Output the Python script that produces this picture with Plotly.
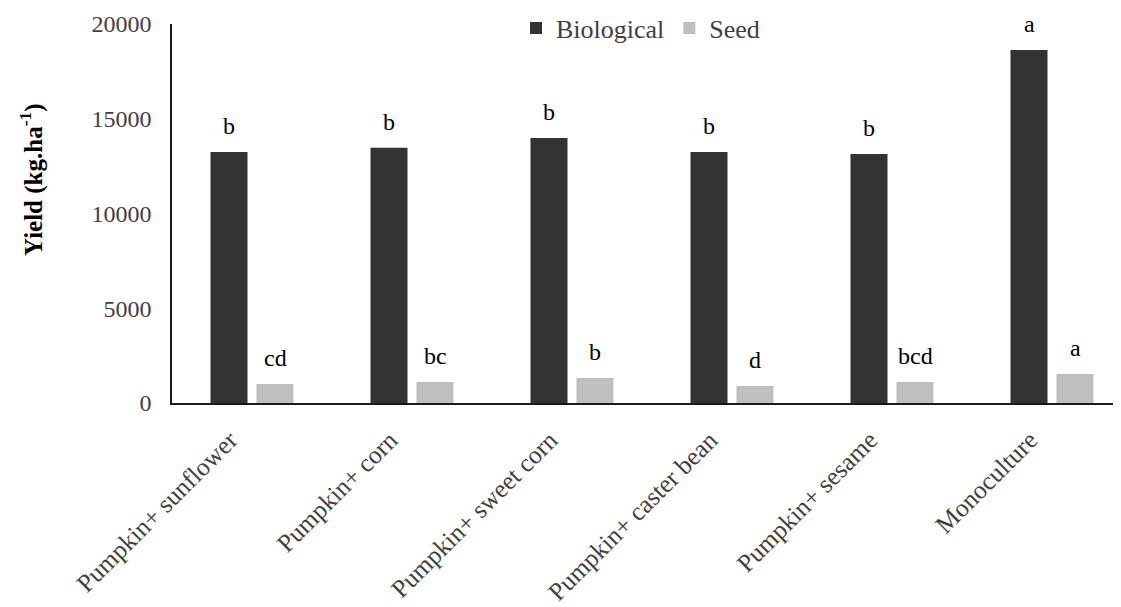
import plotly.graph_objects as go

categories = ["Pumpkin+ sunflower", "Pumpkin+ corn", "Pumpkin+ sweet corn",
              "Pumpkin+ caster bean", "Pumpkin+ sesame", "Monoculture"]
biological = [13250, 13470, 13980, 13250, 13140, 18630]
seed = [1000, 1110, 1320, 900, 1110, 1530]
bio_letters = ["b", "b", "b", "b", "b", "a"]
seed_letters = ["cd", "bc", "b", "d", "bcd", "a"]
y_ticks = [0, 5000, 10000, 15000, 20000]

FONT = "Liberation Serif, Times New Roman, serif"

fig = go.Figure()
fig.add_trace(go.Bar(name="Biological", x=categories, y=biological,
                     marker=dict(color="#333333", line=dict(width=0))))
fig.add_trace(go.Bar(name="Seed", x=categories, y=seed,
                     marker=dict(color="#bfbfbf", line=dict(width=0))))

bargap = 0.425
slot_px = 160 * (1 - bargap) / 2
for cat, v, t in zip(categories, biological, bio_letters):
    fig.add_annotation(x=cat, y=v, text=t, showarrow=False, xref="x", yref="y",
                       xshift=-slot_px / 2, yshift=11, yanchor="bottom",
                       font=dict(family=FONT, size=24, color="#000000"))
for cat, v, t in zip(categories, seed, seed_letters):
    fig.add_annotation(x=cat, y=v, text=t, showarrow=False, xref="x", yref="y",
                       xshift=slot_px / 2, yshift=11, yanchor="bottom",
                       font=dict(family=FONT, size=24, color="#000000"))

fig.add_annotation(text="<b>Yield (kg.ha<sup>-1</sup>)</b>", textangle=-90,
                   xref="paper", yref="paper", x=(31 - 172) / 949, y=(403 - 180) / 379,
                   xanchor="center", yanchor="middle", showarrow=False,
                   font=dict(family=FONT, size=25, color="#000000"))

fig.update_layout(
    width=1113, height=599,
    margin=dict(l=164, r=0, t=16, b=204, autoexpand=False),
    paper_bgcolor="white", plot_bgcolor="white",
    barmode="group", bargap=bargap, bargroupgap=0.196,
    font=dict(family=FONT, size=24, color="#404040"),
    legend=dict(orientation="h", x=(516 - 172) / 949, y=(403 - 28) / 379,
                xanchor="left", yanchor="middle", bgcolor="rgba(0,0,0,0)",
                font=dict(family=FONT, size=26, color="#404040"),
                itemwidth=30, traceorder="normal"),
    showlegend=True,
)
fig.update_xaxes(type="category", range=[-0.5, -0.5 + 949 / 160],
                 showline=True, linecolor="#1a1a1a", linewidth=2,
                 ticks="", tickangle=-45, showgrid=False, automargin=False,
                 ticklabelshift=-22, ticklabelstandoff=10,
                 tickfont=dict(family=FONT, size=25.5, color="#404040"))
fig.update_yaxes(range=[0, 20000], tickvals=y_ticks, ticktext=[str(v) for v in y_ticks],
                 showline=True, linecolor="#1a1a1a", linewidth=1.5,
                 ticks="", showgrid=False, zeroline=False, automargin=False,
                 ticklabelstandoff=14,
                 tickfont=dict(family=FONT, size=24, color="#404040"))

fig.write_html("out.html")
